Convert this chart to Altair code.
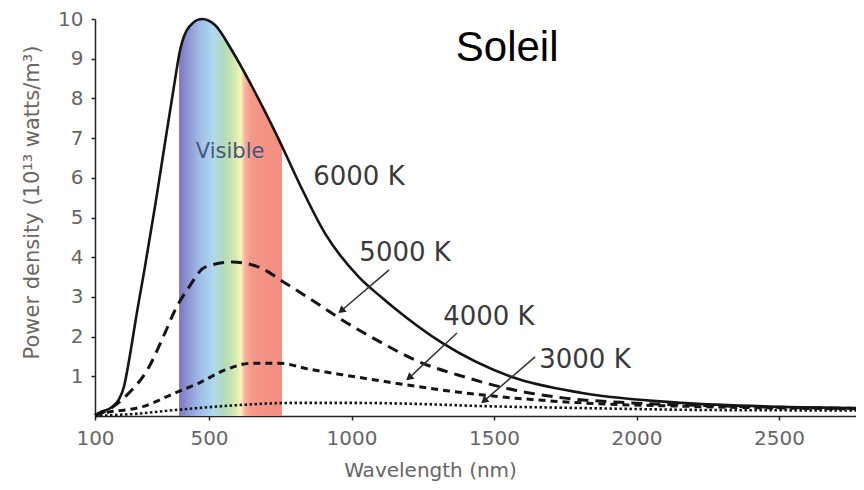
import altair as alt
import pandas as pd

# ---- data ----
lam6 = [100, 114, 160, 184, 202, 212, 230, 240, 275, 311, 346, 377, 398, 430, 475, 521, 581, 651, 746,
        816, 907, 1026, 1100, 1150, 1318, 1563, 1809, 2160, 2511, 2770]
val6 = [0.02, 0.08, 0.23, 0.42, 0.75, 1.1, 1.85, 2.3, 3.75, 5.3, 6.9, 8.3, 9.2, 9.8, 10.0, 9.85, 9.2, 8.3, 6.95,
        5.87, 4.6, 3.5, 3.02, 2.72, 1.84, 0.98, 0.58, 0.33, 0.23, 0.2]

lam5 = [100, 125, 205, 289, 346, 381, 430, 486, 581, 675, 767, 861, 967, 1107, 1223, 1398, 1574, 1749,
        1984, 2300, 2770]
val5 = [0.02, 0.08, 0.48, 1.23, 2.1, 2.67, 3.25, 3.75, 3.88, 3.75, 3.35, 2.92, 2.42, 1.84, 1.41, 0.98, 0.65,
        0.45, 0.33, 0.25, 0.19]

lam4 = [100, 135, 265, 381, 465, 556, 651, 746, 851, 967, 1107, 1342, 1574, 1809, 2200, 2770]
val4 = [0.02, 0.08, 0.23, 0.58, 0.83, 1.16, 1.33, 1.33, 1.18, 1.04, 0.88, 0.63, 0.45, 0.33, 0.24, 0.18]

lam3 = [100, 250, 381, 616, 791, 1000, 1200, 1458, 1809, 2275, 2770]
val3 = [0.0, 0.06, 0.15, 0.28, 0.33, 0.33, 0.31, 0.25, 0.2, 0.15, 0.14]

# visible band (under the 6000 K curve)
band_lam = [395, 398, 430, 475, 521, 581, 651, 746, 756]
band_val = [9.05, 9.2, 9.8, 10.0, 9.85, 9.2, 8.3, 6.95, 6.8]

# curve labels
lab_text = ["6000 K", "5000 K", "4000 K", "3000 K"]
lab_lam = [1026, 1188, 1482, 1819]
lab_val = [6.02, 4.10, 2.49, 1.41]

# arrows (start -> end)
arr_lam = [1132, 1370, 1644]
arr_val = [3.68, 2.09, 1.49]
arr_lam2 = [967, 1205, 1468]
arr_val2 = [2.67, 0.98, 0.40]

x_ticks = [100, 500, 1000, 1500, 2000, 2500]
y_ticks = [1, 2, 3, 4, 5, 6, 7, 8, 9, 10]

visible_text = ["Visible"]
visible_lam = [574]
visible_val = [6.65]

title_text = ["Soleil"]
title_lam = [1546]
title_val = [8.94]

# ---- chart ----
xs = alt.Scale(domain=[100, 2770], nice=False, zero=False)
ys = alt.Scale(domain=[0, 10], nice=False, zero=True)

xaxis = alt.Axis(values=x_ticks, format="d", title="Wavelength (nm)", grid=False, domainColor="#222",
                 domainWidth=1.5, tickColor="#222", tickSize=4, tickWidth=1.5, labelFont="DejaVu Sans",
                 labelFontSize=20, labelColor="#666", labelPadding=8, labelFlush=False,
                 titleFont="DejaVu Sans", titleFontSize=20, titleFontWeight="normal", titleColor="#666",
                 titleX=335, titleY=54, titleAlign="center", titleBaseline="middle")
yaxis = alt.Axis(values=y_ticks, format="d", title="Power density (10¹³ watts/m³)", grid=False,
                 domainColor="#222", domainWidth=1.5, tickColor="#222", tickSize=4, tickWidth=1.5,
                 labelFont="DejaVu Sans", labelFontSize=20, labelColor="#666", labelPadding=8,
                 labelFlush=False, titleFont="DejaVu Sans", titleFontSize=21, titleFontWeight="normal",
                 titleColor="#6e665e", titleAngle=270, titleX=-63, titleY=183, titleAlign="center",
                 titleBaseline="middle")

X = alt.X("lam:Q", scale=xs, axis=xaxis)
Y = alt.Y("p:Q", scale=ys, axis=yaxis)


def df(l, v):
    return pd.DataFrame({"lam": l, "p": v})


grad = alt.Gradient(
    gradient="linear", x1=0, x2=1, y1=0, y2=0,
    stops=[
        alt.GradientStop(offset=0.0, color="#7a78bc"),
        alt.GradientStop(offset=0.08, color="#8e93d2"),
        alt.GradientStop(offset=0.2, color="#a0bce8"),
        alt.GradientStop(offset=0.33, color="#aed8ee"),
        alt.GradientStop(offset=0.45, color="#b6dcb4"),
        alt.GradientStop(offset=0.55, color="#d8ebb0"),
        alt.GradientStop(offset=0.6, color="#fbf4bc"),
        alt.GradientStop(offset=0.64, color="#f7b3a2"),
        alt.GradientStop(offset=0.7, color="#f59888"),
        alt.GradientStop(offset=1.0, color="#f38d80"),
    ])

band = alt.Chart(df(band_lam, band_val)).mark_area(interpolate="monotone", color=grad).encode(x=X, y=Y)

line_col = "#151515"
l6 = alt.Chart(df(lam6, val6)).mark_line(interpolate="monotone", color=line_col, strokeWidth=2.6).encode(x=X, y=Y)
l5 = alt.Chart(df(lam5, val5)).mark_line(interpolate="monotone", color=line_col, strokeWidth=3,
                                         strokeDash=[11, 7]).encode(x=X, y=Y)
l4 = alt.Chart(df(lam4, val4)).mark_line(interpolate="monotone", color=line_col, strokeWidth=3,
                                         strokeDash=[7, 5]).encode(x=X, y=Y)
l3 = alt.Chart(df(lam3, val3)).mark_line(interpolate="monotone", color=line_col, strokeWidth=2.6,
                                         strokeDash=[2.5, 2.5]).encode(x=X, y=Y)

arr_df = pd.DataFrame({"lam": arr_lam, "p": arr_val, "lam2": arr_lam2, "p2": arr_val2})
arrows = alt.Chart(arr_df).mark_rule(color="#333", strokeWidth=1.5).encode(
    x=X, y=Y, x2="lam2:Q", y2="p2:Q")
heads = alt.Chart(arr_df).mark_point(shape="triangle", angle=230, size=70, filled=True,
                                     color="#222", opacity=1).encode(
    x=alt.X("lam2:Q", scale=xs, axis=xaxis), y=alt.Y("p2:Q", scale=ys, axis=yaxis))

labels = alt.Chart(pd.DataFrame({"lam": lab_lam, "p": lab_val, "t": lab_text})).mark_text(
    font="DejaVu Sans", fontSize=26, color="#3a3a3a", align="center", baseline="middle").encode(
    x=X, y=Y, text="t:N")

vis = alt.Chart(pd.DataFrame({"lam": visible_lam, "p": visible_val, "t": visible_text})).mark_text(
    font="DejaVu Sans", fontSize=21, color="#46567a", align="center", baseline="middle").encode(
    x=X, y=Y, text="t:N")

sol = alt.Chart(pd.DataFrame({"lam": title_lam, "p": title_val, "t": title_text})).mark_text(
    font="Liberation Sans", fontSize=42, color="#000", align="center", baseline="alphabetic").encode(
    x=X, y=Y, text="t:N")

chart = alt.layer(band, l6, l5, l4, l3, arrows, heads, labels, vis, sol).properties(
    width=761, height=397,
    autosize=alt.AutoSizeParams(type="none"),
    padding={"left": 87, "top": 11, "right": 0, "bottom": 70},
).configure_view(stroke=None)

chart.save("out.html", embed_options={"renderer": "svg", "actions": False})
